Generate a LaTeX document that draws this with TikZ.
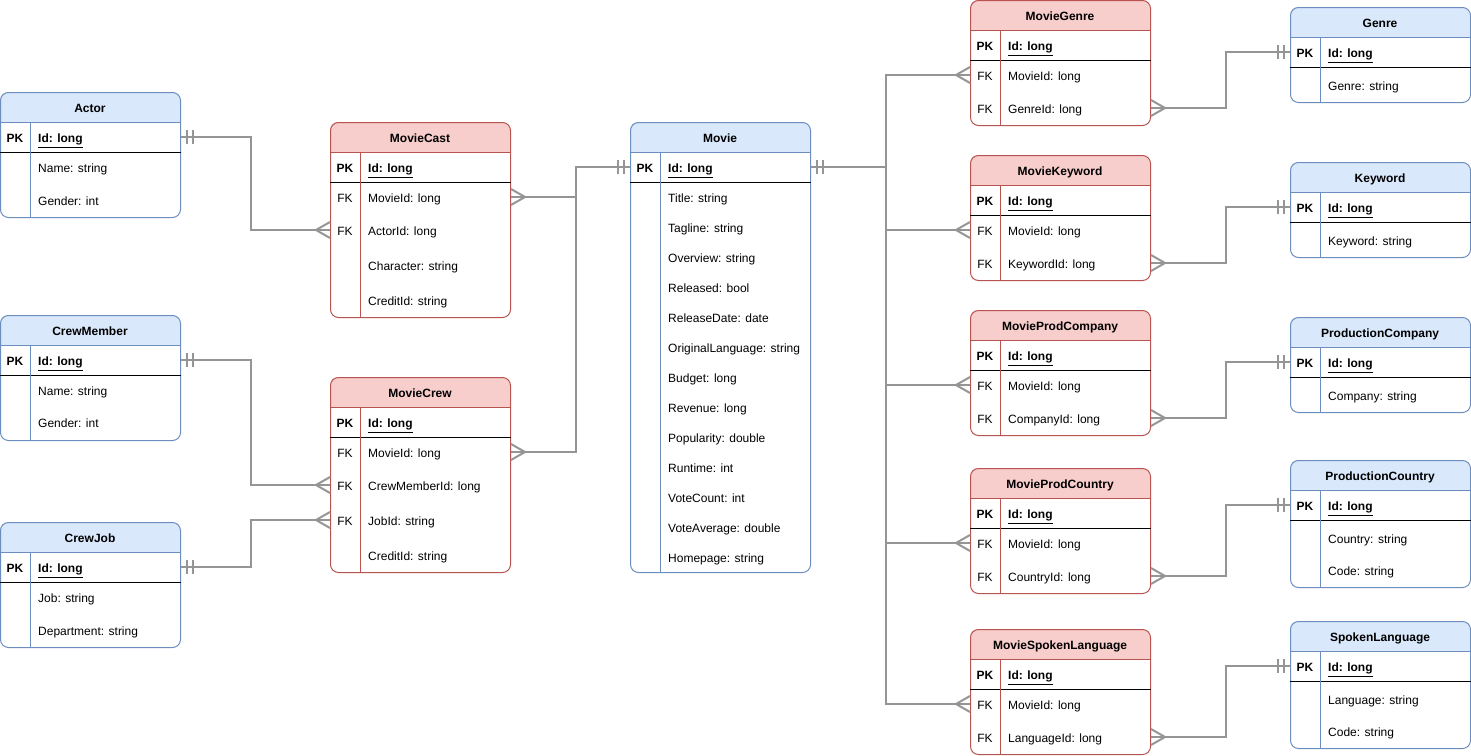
\documentclass[tikz,border=0pt]{standalone}
\usepackage{fontspec}
\setmainfont{Liberation Sans}
\usetikzlibrary{positioning}

\definecolor{bluefill}{HTML}{DAE8FC}
\definecolor{blueline}{HTML}{6C8EBF}
\definecolor{redfill}{HTML}{F8CECC}
\definecolor{redline}{HTML}{B85450}
\definecolor{linkgray}{HTML}{959595}

\tikzset{
    bluebox/.style={draw=blueline, line width=1pt, rounded corners=8pt, minimum width=180pt, inner sep=0pt},
    redbox/.style={draw=redline, line width=1pt, rounded corners=8pt, minimum width=180pt, inner sep=0pt},
    bluehead/.style={fill=bluefill},
    redhead/.style={fill=redfill},
    bluerule/.style={draw=blueline, line width=1pt},
    redrule/.style={draw=redline, line width=1pt},
    celltext/.style={inner sep=0pt, text height=14pt, text depth=2.4pt},
    tabletitle/.style={celltext, font=\fontsize{12}{14}\selectfont\bfseries},
    keytext/.style={celltext, font=\fontsize{12}{14}\selectfont},
    field/.style={celltext, anchor=west, font=\fontsize{12}{14}\selectfont},
    erline/.style={draw=linkgray, line width=2pt},
    one/.pic={\draw[erline] (6,-7) -- (6,7) (12,-7) -- (12,7);},
    many/.pic={\draw[erline] (0,-8) -- (14,0) -- (0,8);},
}

% table frame: name, colour, x, y, height, title
\newcommand{\ertable}[6]{
    \begin{scope}
        \clip[rounded corners=8pt] (#3,#4) rectangle ++(180,#5);
        \fill[#2head] (#3,#4) rectangle ++(180,30);
    \end{scope}
    \node[#2box, minimum height=#5pt, anchor=north west] (#1) at (#3,#4) {};
    \node[tabletitle] (#1-title) at ([xshift=90pt,yshift=-15pt]#1.north west) {#6};
    \draw[#2rule] ([yshift=-30pt]#1.north west) -- ([yshift=-30pt]#1.north east);
    \draw[line width=1pt] ([yshift=-60pt]#1.north west) -- ([yshift=-60pt]#1.north east);
    \draw[#2rule] ([xshift=30pt,yshift=-30pt]#1.north west) -- ([xshift=30pt]#1.south west);
    \node[keytext, font=\fontsize{12}{14}\selectfont\bfseries] (#1-pk) at ([xshift=15pt,yshift=-45pt]#1.north west) {PK};
    \node[field, font=\fontsize{12}{14}\selectfont\bfseries] (#1-id) at ([xshift=38pt,yshift=-45pt]#1.north west) {\underline{Id: long}};
}

% table row: table, row, offset, key, text
\newcommand{\erfield}[5]{
    \node[keytext] (#1-#2-key) at ([xshift=15pt,yshift={-(#3)}]#1.north west) {#4};
    \node[field] (#1-#2) at ([xshift=38pt,yshift={-(#3)}]#1.north west) {#5};
}

\begin{document}
\begin{tikzpicture}[x=1pt, y=-1pt]
    \useasboundingbox (0,0) rectangle (1471,755);

    % people and jobs
    \ertable{actor}{blue}{0}{92}{125}{Actor}
    \erfield{actor}{name}{75}{}{Name: string}
    \erfield{actor}{gender}{108}{}{Gender: int}

    \ertable{member}{blue}{0}{315}{125}{CrewMember}
    \erfield{member}{name}{75}{}{Name: string}
    \erfield{member}{gender}{107}{}{Gender: int}

    \ertable{job}{blue}{0}{522}{125}{CrewJob}
    \erfield{job}{job}{75}{}{Job: string}
    \erfield{job}{dept}{108}{}{Department: string}

    % cast and crew
    \ertable{cast}{red}{330}{122}{195}{MovieCast}
    \erfield{cast}{movie}{75}{FK}{MovieId: long}
    \erfield{cast}{actor}{108}{FK}{ActorId: long}
    \erfield{cast}{role}{143}{}{Character: string}
    \erfield{cast}{credit}{178}{}{CreditId: string}

    \ertable{crew}{red}{330}{377}{195}{MovieCrew}
    \erfield{crew}{movie}{75}{FK}{MovieId: long}
    \erfield{crew}{member}{108}{FK}{CrewMemberId: long}
    \erfield{crew}{job}{143}{FK}{JobId: string}
    \erfield{crew}{credit}{178}{}{CreditId: string}

    % movie
    \ertable{movie}{blue}{630}{122}{450}{Movie}
    \foreach \f [count=\i from 0] in {Title: string, Tagline: string, Overview: string,
        Released: bool, ReleaseDate: date, OriginalLanguage: string, Budget: long,
        Revenue: long, Popularity: double, Runtime: int, VoteCount: int,
        VoteAverage: double, Homepage: string}
        {\erfield{movie}{r\i}{75+30*\i}{}{\f}}

    % link tables
    \ertable{mgenre}{red}{970}{0}{125}{MovieGenre}
    \erfield{mgenre}{movie}{75}{FK}{MovieId: long}
    \erfield{mgenre}{ref}{108}{FK}{GenreId: long}

    \ertable{mkeyword}{red}{970}{155}{125}{MovieKeyword}
    \erfield{mkeyword}{movie}{75}{FK}{MovieId: long}
    \erfield{mkeyword}{ref}{108}{FK}{KeywordId: long}

    \ertable{mcompany}{red}{970}{310}{125}{MovieProdCompany}
    \erfield{mcompany}{movie}{75}{FK}{MovieId: long}
    \erfield{mcompany}{ref}{108}{FK}{CompanyId: long}

    \ertable{mcountry}{red}{970}{468}{125}{MovieProdCountry}
    \erfield{mcountry}{movie}{75}{FK}{MovieId: long}
    \erfield{mcountry}{ref}{108}{FK}{CountryId: long}

    \ertable{mlanguage}{red}{970}{629}{125}{MovieSpokenLanguage}
    \erfield{mlanguage}{movie}{75}{FK}{MovieId: long}
    \erfield{mlanguage}{ref}{108}{FK}{LanguageId: long}

    % lookup tables
    \ertable{genre}{blue}{1290}{7}{95}{Genre}
    \erfield{genre}{genre}{78}{}{Genre: string}

    \ertable{keyword}{blue}{1290}{162}{95}{Keyword}
    \erfield{keyword}{keyword}{78}{}{Keyword: string}

    \ertable{company}{blue}{1290}{317}{95}{ProductionCompany}
    \erfield{company}{company}{78}{}{Company: string}

    \ertable{country}{blue}{1290}{460}{127}{ProductionCountry}
    \erfield{country}{country}{78}{}{Country: string}
    \erfield{country}{code}{110}{}{Code: string}

    \ertable{language}{blue}{1290}{621}{127}{SpokenLanguage}
    \erfield{language}{language}{78}{}{Language: string}
    \erfield{language}{code}{110}{}{Code: string}

    % relations
    \draw[erline] (actor.east |- actor-id) pic{one} -- ++(70,0) |- (cast.west |- cast-actor) pic[rotate=180]{many};
    \draw[erline] (member.east |- member-id) pic{one} -- ++(70,0) |- (crew.west |- crew-member) pic[rotate=180]{many};
    \draw[erline] (job.east |- job-id) pic{one} -- ++(70,0) |- (crew.west |- crew-job) pic[rotate=180]{many};

    \draw[erline] (cast.east |- cast-movie) pic{many} -- ++(65,0) |- (movie.west |- movie-id) pic[rotate=180]{one};
    \draw[erline] (crew.east |- crew-movie) pic{many} -- ++(65,0) |- (movie.west |- movie-id) pic[rotate=180]{one};

    \foreach \t in {mgenre, mkeyword, mcompany, mcountry, mlanguage}
        \draw[erline] (movie.east |- movie-id) pic{one} -- ++(75,0) |- (\t.west |- \t-movie) pic[rotate=180]{many};

    \foreach \t/\e in {mgenre/genre, mkeyword/keyword, mcompany/company, mcountry/country, mlanguage/language}
        \draw[erline] (\t.east |- \t-ref) pic{many} -- ++(75,0) |- (\e.west |- \e-id) pic[rotate=180]{one};
\end{tikzpicture}
\end{document}
